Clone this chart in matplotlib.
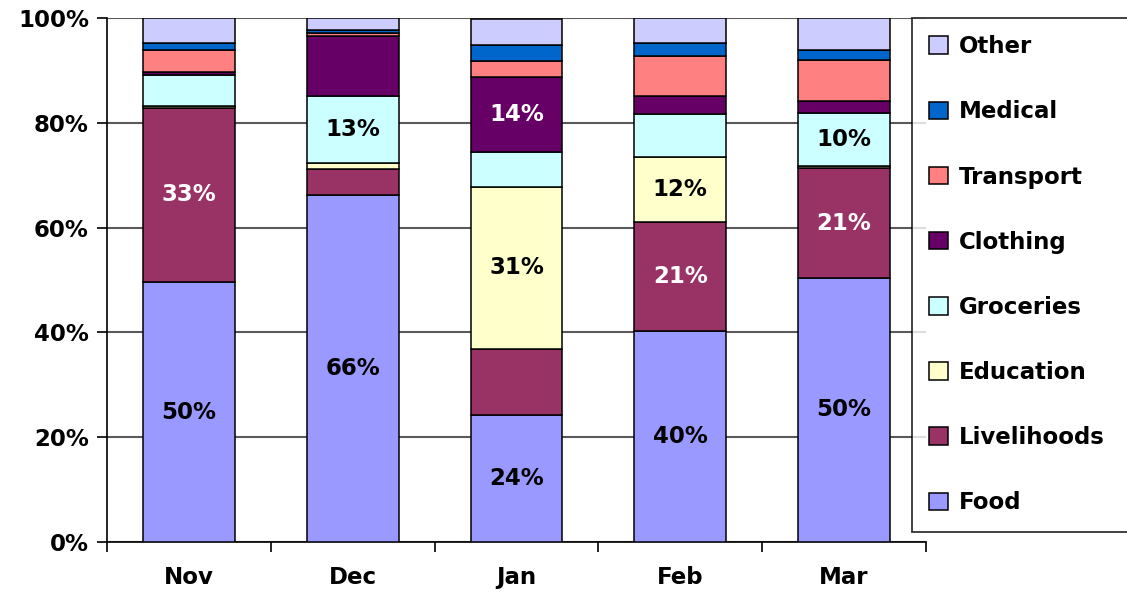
import matplotlib
matplotlib.use('Agg')
import matplotlib.pyplot as plt
import numpy as np

plt.rcParams['font.family'] = ['DejaVu Sans']
plt.rcParams['font.weight'] = 'bold'

months = ['Nov', 'Dec', 'Jan', 'Feb', 'Mar']

# share of spending per month, in percent (bottom to top)
food = [49.6, 66.3, 24.2, 40.3, 50.4]
livelihoods = [33.3, 4.8, 12.6, 20.8, 20.9]
education = [0.3, 1.3, 31.0, 12.4, 0.5]
groceries = [6.0, 12.8, 6.6, 8.2, 10.0]
clothing = [0.4, 11.3, 14.4, 3.5, 2.4]
transport = [4.3, 0.7, 3.0, 7.6, 7.7]
medical = [1.4, 0.5, 3.1, 2.4, 2.0]
other = [4.7, 2.3, 5.0, 4.8, 6.1]

categories = ['Food', 'Livelihoods', 'Education', 'Groceries',
              'Clothing', 'Transport', 'Medical', 'Other']
series = [food, livelihoods, education, groceries,
          clothing, transport, medical, other]
colors = ['#9999FF', '#993366', '#FFFFCC', '#CCFFFF',
          '#660066', '#FF8080', '#0066CC', '#CCCCFF']

# data labels shown on the chart: category -> text per month ('' = none)
shown_labels = {
    'Food': ['50%', '66%', '24%', '40%', '50%'],
    'Livelihoods': ['33%', '', '', '21%', '21%'],
    'Education': ['', '', '31%', '12%', ''],
    'Groceries': ['', '13%', '', '', '10%'],
    'Clothing': ['', '', '14%', '', ''],
}
white_text = {'Livelihoods', 'Clothing'}

fs = 16.5

fig = plt.figure(figsize=(11.27, 5.93), dpi=100)
ax = fig.add_axes([107 / 1127, 51 / 593, 819 / 1127, 524 / 593])

x = np.arange(len(months))
bottom = np.zeros(len(months))
bars = {}
for name, vals, col in zip(categories, series, colors):
    vals = np.array(vals)
    bars[name] = ax.bar(x, vals, 0.56, bottom=bottom, color=col,
                        edgecolor='black', linewidth=1.1, label=name,
                        zorder=3)
    for i, txt in enumerate(shown_labels.get(name, [''] * len(months))):
        if txt:
            ax.text(x[i], bottom[i] + vals[i] / 2, txt, ha='center',
                    va='center', fontsize=fs, fontweight='bold',
                    color='white' if name in white_text else 'black',
                    zorder=4)
    bottom += vals

ax.set_xlim(-0.5, len(months) - 0.5)
ax.set_ylim(0, 100)
ax.set_yticks([0, 20, 40, 60, 80, 100])
ax.set_yticklabels([f'{v}%' for v in range(0, 101, 20)])
ax.yaxis.grid(True, color='#5a5a5a', linewidth=1.5, zorder=0)
ax.set_axisbelow(True)

ax.set_xticks(x)
ax.set_xticklabels(months)
ax.set_xticks(np.arange(len(months) + 1) - 0.5, minor=True)
ax.tick_params(axis='x', which='major', length=0, pad=17, labelsize=fs)
ax.tick_params(axis='x', which='minor', length=7, width=1.2,
               direction='out')
ax.tick_params(axis='y', length=7, width=1.2, labelsize=fs, pad=6)

for side in ['top', 'right']:
    ax.spines[side].set_visible(False)
for side in ['left', 'bottom']:
    ax.spines[side].set_linewidth(1.2)

handles = [bars[c] for c in categories[::-1]]
leg = fig.legend(handles, categories[::-1], loc='upper left',
                 bbox_to_anchor=(912 / 1127, 58 / 593,
                                 240 / 1127, 517 / 593),
                 mode='expand', fontsize=fs, labelspacing=1.84,
                 handlelength=0.8, handleheight=0.8, handletextpad=0.5,
                 borderaxespad=0, borderpad=0.75, fancybox=False,
                 frameon=True, edgecolor='black')
leg.get_frame().set_linewidth(1.3)
for t in leg.get_texts():
    t.set_fontweight('bold')

fig.savefig('out.png', dpi=100)
